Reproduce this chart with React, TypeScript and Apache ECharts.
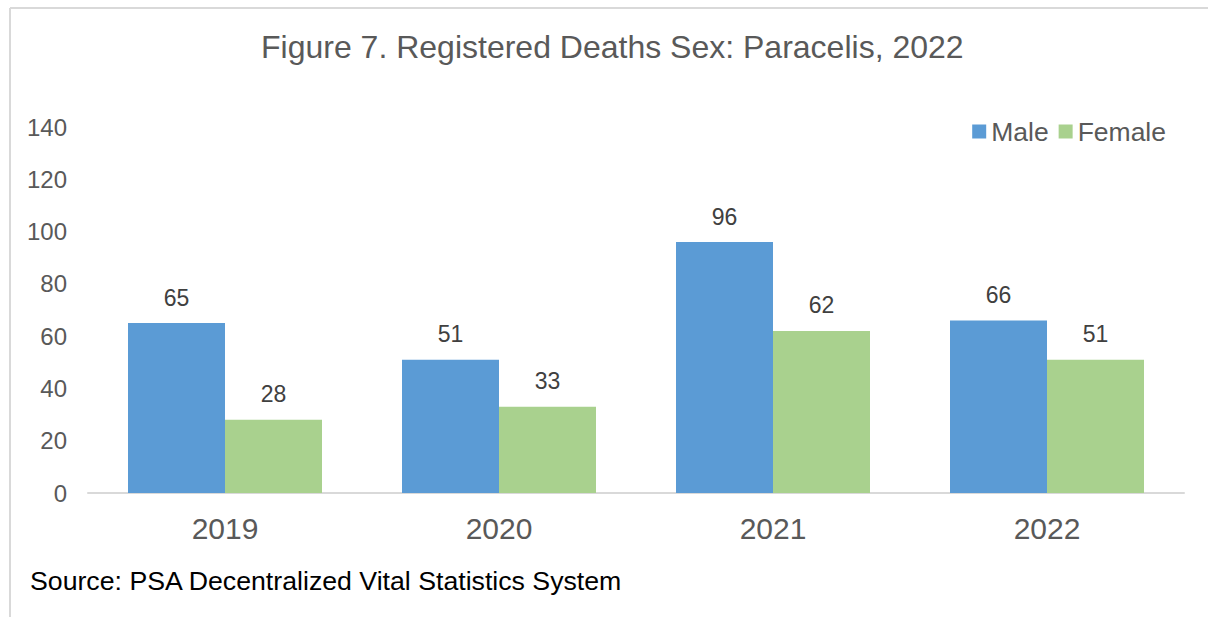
import React, { useEffect, useRef } from "react";
import * as echarts from "echarts";

const categories = ["2019", "2020", "2021", "2022"];
const maleValues = [65, 51, 96, 66];
const femaleValues = [28, 33, 62, 51];
const titleText = "Figure 7. Registered Deaths Sex: Paracelis, 2022";
const sourceText = "Source: PSA Decentralized Vital Statistics System";

export default function App() {
  const ref = useRef<HTMLDivElement>(null);
  useEffect(() => {
    document.body.style.margin = "0";
    const chart = echarts.init(ref.current!, null, { renderer: "svg" });
    const font = "Liberation Sans, Arial, sans-serif";
    const labelStyle = {
      show: true,
      position: "top" as const,
      distance: 14,
      fontSize: 23,
      color: "#404040",
      fontFamily: font,
    };
    chart.setOption({
      animation: false,
      backgroundColor: "#ffffff",
      title: {
        text: titleText,
        left: 256,
        top: 26,
        textStyle: { fontSize: 32, fontWeight: "normal", color: "#595959", fontFamily: font },
      },
      legend: {
        right: 37,
        top: 113,
        icon: "rect",
        itemWidth: 14,
        itemHeight: 14,
        itemGap: 10,
        textStyle: { fontSize: 26.5, color: "#595959", fontFamily: font, padding: [0, 0, 0, 0] },
        data: ["Male", "Female"],
      },
      grid: { left: 88, right: 24, top: 127, bottom: 124, containLabel: false },
      xAxis: {
        type: "category",
        data: categories,
        axisLine: { lineStyle: { color: "#d9d9d9", width: 2 } },
        axisTick: { show: false },
        axisLabel: { fontSize: 30, color: "#595959", margin: 20, fontFamily: font },
      },
      yAxis: {
        type: "value",
        min: 0,
        max: 140,
        interval: 20,
        splitLine: { show: false },
        axisLine: { show: false },
        axisTick: { show: false },
        axisLabel: { fontSize: 24, color: "#595959", margin: 21, fontFamily: font },
      },
      series: [
        {
          name: "Male",
          type: "bar",
          data: maleValues,
          barWidth: 97,
          barGap: "0%",
          itemStyle: { color: "#5b9bd5" },
          label: labelStyle,
        },
        {
          name: "Female",
          type: "bar",
          data: femaleValues,
          barWidth: 97,
          itemStyle: { color: "#a9d18e" },
          label: labelStyle,
        },
      ],
      graphic: [
        { type: "line", shape: { x1: 10, y1: 8, x2: 1208, y2: 8 }, style: { stroke: "#d9d9d9", lineWidth: 2 } },
        { type: "line", shape: { x1: 10, y1: 8, x2: 10, y2: 617 }, style: { stroke: "#d9d9d9", lineWidth: 2 } },
        {
          type: "text",
          left: 30,
          top: 567,
          style: { text: sourceText, fontSize: 26.7, fill: "#000000", fontFamily: font },
        },
      ],
    });
    return () => chart.dispose();
  }, []);
  return <div ref={ref} style={{ width: 1208, height: 617 }} />;
}
